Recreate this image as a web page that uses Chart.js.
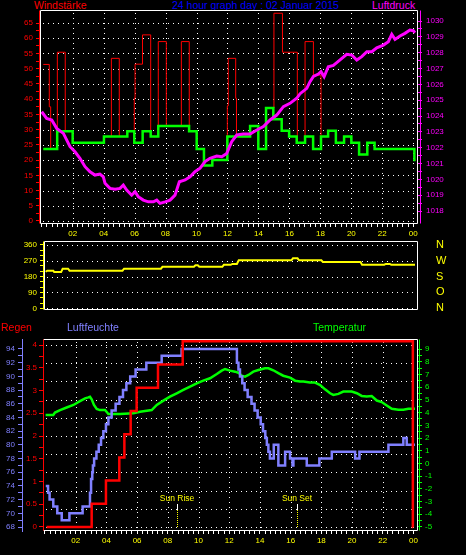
<!DOCTYPE html>
<html>
<head>
<meta charset="utf-8">
<title>24 hour graph</title>
<script src="https://cdn.jsdelivr.net/npm/chart.js@4.4.1/dist/chart.umd.min.js"></script>
<style>
  html, body { margin: 0; padding: 0; background: #000; }
  #wrap { position: relative; width: 466px; height: 555px; overflow: hidden; background: #000;
          font-family: 'Liberation Sans', Arial, sans-serif; }
  canvas { position: absolute; left: 0; }
  .lbl { position: absolute; font-size: 10.5px; line-height: 11px; white-space: nowrap; }
</style>
</head>
<body>
<div id="wrap">
  <div class="lbl" style="left:34px;top:0;color:#ff0000">Windstärke</div>
  <div class="lbl" style="left:172px;top:0;color:#0000ff">24 hour graph day : 02 Januar 2015</div>
  <div class="lbl" style="left:372px;top:0;color:#ff00ff">Luftdruck</div>
  <canvas id="cWind" width="466" height="245" style="top:0"></canvas>
  <canvas id="cDir" width="466" height="80" style="top:236px"></canvas>
  <div class="lbl" style="left:1px;top:322px;color:#ff0000">Regen</div>
  <div class="lbl" style="left:67px;top:322px;color:#8080ff">Luftfeuchte</div>
  <div class="lbl" style="left:313px;top:322px;color:#00ff00">Temperatur</div>
  <canvas id="cRain" width="466" height="225" style="top:330px"></canvas>
</div>
<script>
// --- tick labels ---
const hourTicks = [2, 4, 6, 8, 10, 12, 14, 16, 18, 20, 22, 24];
const hourLabels = ['02', '04', '06', '08', '10', '12', '14', '16', '18', '20', '22', '00'];
const windTicks = [0, 5, 10, 15, 20, 25, 30, 35, 40, 45, 50, 55, 60, 65];
const pressTicks = [1018, 1019, 1020, 1021, 1022, 1023, 1024, 1025, 1026, 1027, 1028, 1029, 1030];
const dirTicks = [0, 90, 180, 270, 360];
const compassLetters = ['N', 'O', 'S', 'W', 'N'];
const rainTicks = [0, 0.5, 1, 1.5, 2, 2.5, 3, 3.5, 4];
const rainGrid = [0, 0.4, 0.8, 1.2, 1.6, 2.0, 2.4, 2.8, 3.2, 3.6, 4.0];
const humTicks = [68, 70, 72, 74, 76, 78, 80, 82, 84, 86, 88, 90, 92, 94];
const tempTicks = [-5, -4, -3, -2, -1, 0, 1, 2, 3, 4, 5, 6, 7, 8, 9];
const sunTimes = [8.62, 16.44];
const sunLabels = ['Sun Rise', 'Sun Set'];

// --- Windstärke (Mittel, Stufen) ---
const windTimes = [0.10, 1.00, 2.00, 4.02, 5.53, 5.98, 6.52, 7.04, 7.53, 9.52, 10.01, 10.48, 11.02, 11.99, 13.46, 13.99,
  14.49, 14.96, 15.50, 15.98, 16.47, 17.01, 17.53, 18.04, 18.50, 19.00, 19.53, 20.00, 20.50, 21.03, 21.50, 24.07, 24.15];
const windValues = [23.6, 29.5, 25.7, 27.7, 29.5, 25.7, 29.5, 27.7, 31.2, 29.5, 23.6, 18.2, 20.0, 27.7, 31.2, 23.6,
  37.1, 33.4, 29.6, 27.7, 25.7, 27.7, 23.6, 27.7, 29.6, 25.7, 27.7, 25.7, 21.8, 25.7, 23.6, 20.0, 20.0];

// --- Böen ---
const gustTimes = [0.10, 0.49, 0.58, 1.01, 1.52, 2.00, 4.02, 4.50, 5.01, 5.53, 5.98, 6.03, 6.51, 7.04, 7.53, 8.05,
  9.02, 9.53, 10.01, 10.48, 11.02, 11.99, 12.05, 12.53, 12.58, 13.46, 13.99, 14.49, 15.00, 15.55, 16.51, 17.01,
  17.55, 18.04, 18.50, 19.00, 19.53, 20.00, 20.50, 21.03, 21.50, 24.07, 24.15];
const gustValues = [51.4, 37.5, 23.6, 55.4, 29.5, 25.7, 27.7, 53.4, 27.7, 29.5, 40.3, 51.5, 61.1, 27.7, 58.9, 31.2,
  58.9, 29.5, 23.6, 18.2, 20.0, 37.8, 53.4, 40.3, 27.7, 31.2, 23.6, 37.1, 68.2, 55.4, 25.7, 58.9,
  47.9, 27.7, 29.6, 25.7, 27.7, 25.7, 21.8, 25.7, 23.6, 20.0, 20.0];

// --- Luftdruck ---
const pressTimes = [0.00, 0.32, 0.65, 0.97, 1.40, 1.83, 2.15, 2.47, 2.80, 3.12, 3.44, 3.76, 3.98, 4.09, 4.41,
  4.74, 5.06, 5.27, 5.49, 5.81, 6.03, 6.24, 6.56, 6.89, 7.21, 7.43, 7.64, 7.97, 8.29, 8.61, 8.89, 9.26, 9.58,
  9.90, 10.23, 10.55, 10.87, 11.30, 11.63, 11.95, 12.27, 12.60, 13.02, 13.46, 13.89, 14.32, 14.75, 15.18, 15.61,
  16.04, 16.47, 16.69, 17.12, 17.33, 17.55, 17.87, 18.04, 18.24, 18.51, 18.84, 19.27, 19.70, 20.03, 20.35, 20.67,
  21.00, 21.32, 21.64, 22.07, 22.39, 22.61, 22.82, 23.14, 23.46, 23.78, 24.00, 24.11];
const pressValues = [1024.27, 1023.85, 1023.75, 1023.22, 1022.90, 1022.06, 1021.74, 1021.33, 1020.80, 1020.48,
  1020.27, 1020.33, 1020.16, 1019.75, 1019.43, 1019.37, 1019.43, 1019.64, 1019.32, 1019.00, 1019.22, 1018.90,
  1018.69, 1018.58, 1018.58, 1018.69, 1018.48, 1018.58, 1018.69, 1019.00, 1019.85, 1019.96, 1020.16, 1020.48,
  1020.70, 1021.12, 1021.33, 1021.47, 1021.43, 1021.64, 1022.38, 1022.80, 1022.86, 1022.86, 1023.12, 1023.33,
  1023.75, 1024.06, 1024.59, 1024.80, 1025.12, 1025.41, 1025.75, 1026.17, 1026.50, 1026.65, 1026.80, 1026.48,
  1027.11, 1027.20, 1027.54, 1027.90, 1027.85, 1027.54, 1027.75, 1028.06, 1028.06, 1028.31, 1028.48, 1028.69,
  1029.16, 1028.84, 1029.05, 1029.22, 1029.43, 1029.39, 1029.26];

// --- Windrichtung ---
const dirTimes = [0.04, 0.15, 0.54, 0.60, 1.05, 1.15, 1.50, 1.60, 5.05, 5.15, 7.55, 7.65, 9.70, 9.80, 9.95, 10.05,
  11.55, 11.65, 12.10, 12.20, 12.50, 12.62, 16.05, 16.15, 16.45, 16.55, 18.00, 18.10, 20.55, 20.65, 22.10, 22.20,
  22.45, 22.55, 24.10];
const dirValues = [207, 213, 213, 205, 205, 224, 224, 213, 213, 224, 224, 235, 235, 244, 244, 235,
  235, 246, 246, 251, 251, 272, 272, 283, 283, 272, 272, 262, 262, 247, 247, 251,
  251, 247, 247];

// --- Regen (Summe) ---
const rainTimes = [0.10, 3.04, 3.97, 4.84, 5.17, 5.58, 5.97, 7.36, 8.97, 23.96, 24.00];
const rainValues = [0, 0.51, 1.02, 1.53, 2.04, 2.55, 3.06, 3.57, 4.08, 0, 0];

// --- Luftfeuchte ---
const humTimes = [0.05, 0.20, 0.30, 0.54, 0.80, 1.09, 1.59, 2.45, 2.93, 3.00, 3.08, 3.12, 3.20, 3.35, 3.50, 3.65,
  3.80, 3.97, 4.13, 4.34, 4.60, 4.85, 5.08, 5.30, 5.55, 5.90, 6.60, 7.60, 8.90, 12.50, 12.60, 12.70, 12.85,
  13.00, 13.20, 13.45, 13.65, 13.85, 14.05, 14.20, 14.35, 14.45, 14.55, 14.65, 14.90, 15.20, 15.64, 15.96,
  16.12, 16.18, 17.05, 17.87, 18.68, 20.20, 20.48, 22.37, 23.34, 23.56, 24.10];
const humValues = [74, 73, 72, 71, 70, 69, 70, 71, 73, 75, 76, 77, 78, 79, 80, 81,
  82, 83, 84, 85, 86, 87, 88, 89, 90, 91, 92, 93, 94, 92, 91, 90, 89,
  88, 87, 86, 85, 84, 83, 82, 81, 80, 79, 78, 80, 77, 79, 78,
  77, 78, 77, 78, 79, 78, 79, 80, 81, 80, 80];

// --- Temperatur ---
const tempTimes = [0.04, 0.54, 0.65, 0.98, 1.41, 1.85, 2.28, 2.61, 2.82, 2.93, 3.04, 3.19, 3.37, 3.58, 3.91,
  4.13, 4.89, 5.75, 6.19, 6.95, 7.28, 7.71, 8.14, 8.58, 9.01, 9.45, 9.88, 10.31, 10.75, 11.19, 11.51, 11.73,
  12.05, 12.38, 12.59, 12.81, 13.03, 13.25, 13.57, 13.90, 14.33, 14.55, 14.87, 15.20, 15.52, 15.96, 16.29,
  16.61, 16.83, 17.26, 17.59, 17.92, 18.24, 18.57, 18.78, 19.11, 19.43, 19.98, 20.31, 20.63, 20.96, 21.28,
  21.61, 21.93, 22.26, 22.59, 23.02, 23.34, 23.67, 24.10];
const tempValues = [3.81, 3.81, 4.00, 4.20, 4.40, 4.60, 4.90, 5.12, 5.20, 5.25, 5.04, 4.60, 4.29, 4.20, 4.20,
  3.89, 3.89, 3.94, 4.07, 4.20, 4.60, 4.94, 5.25, 5.52, 5.78, 6.04, 6.30, 6.51, 6.70, 7.04, 7.30, 7.43,
  7.30, 7.22, 7.14, 6.90, 6.83, 6.96, 7.22, 7.35, 7.49, 7.49, 7.33, 7.10, 6.90, 6.75, 6.51,
  6.44, 6.44, 6.36, 6.36, 6.17, 5.83, 5.52, 5.39, 5.47, 5.65, 5.65, 5.52, 5.31, 5.26, 5.30,
  4.95, 4.83, 4.56, 4.30, 4.23, 4.23, 4.30, 4.30];

Chart.defaults.font.family = "'Liberation Sans', Arial, sans-serif";
Chart.defaults.font.size = 8;

function pts(xs, ys) {
  return xs.map((x, i) => ({ x: x, y: ys[i] }));
}

// regelmaessige Tick-Positionen (auch die kleinen ohne Beschriftung)
function steps(from, to, step) {
  const out = [];
  const n = Math.round((to - from) / step);
  for (let i = 0; i <= n; i++) out.push({ value: +(from + i * step).toFixed(4) });
  return out;
}

function pick(major, labels) {
  return v => {
    const i = major.findIndex(m => Math.abs(m - v) < 1e-6);
    return i < 0 ? '' : labels[i];
  };
}

function fixSize(w, h) {
  return scale => {
    if (w !== null) scale.width = w;
    if (h !== null) scale.height = h;
    scale.paddingTop = 0;
    scale.paddingBottom = 0;
    scale.paddingLeft = 0;
    scale.paddingRight = 0;
  };
}

function yAxis(o) {
  return {
    type: 'linear', axis: 'y', position: o.position, weight: o.weight || 0,
    min: o.min, max: o.max, bounds: 'data',
    afterFit: fixSize(o.width, null),
    afterBuildTicks: s => { s.ticks = steps(o.from, o.to, o.minor); },
    grid: { drawOnChartArea: false, drawTicks: o.tickLength > 0, tickLength: o.tickLength || 0,
            color: o.color, tickColor: o.color },
    border: { display: !!o.border, color: o.color, width: 1 },
    ticks: { color: o.color, padding: o.padding, autoSkip: false, font: { size: o.size || 8 },
             callback: pick(o.major, o.labels) }
  };
}

function xAxis(o) {
  return {
    type: 'linear', position: 'bottom', min: o.min, max: o.max, bounds: 'data', display: o.display,
    afterFit: fixSize(null, o.height),
    afterBuildTicks: s => { s.ticks = steps(0, 24, 1 / 3); },
    grid: { drawOnChartArea: false, tickLength: 3, color: '#ffffff', tickColor: '#ffffff' },
    border: { display: false },
    ticks: { color: '#ffff00', padding: 2, autoSkip: false, maxRotation: 0, minRotation: 0,
             callback: pick(hourTicks, hourLabels) }
  };
}

// gepunktetes Gitter, weisser Rahmen, Achsenlinien, Sonnenauf-/untergang
const framePlugin = {
  id: 'frame',
  beforeDatasetsDraw(chart, args, o) {
    const ctx = chart.ctx, a = chart.chartArea;
    const L = Math.round(a.left), R = Math.round(a.right), T = Math.round(a.top), B = Math.round(a.bottom);
    ctx.save();
    ctx.fillStyle = '#ffffff';
    if (o.hScale) {
      const s = chart.scales[o.hScale];
      o.hValues.forEach(v => {
        const y = Math.round(s.getPixelForValue(v));
        for (let x = L + 3; x < R - 1; x += 5) ctx.fillRect(x, y, 1, 1);
      });
    }
    if (o.vValues) {
      const s = chart.scales.x;
      o.vValues.forEach(v => {
        const x = Math.round(s.getPixelForValue(v));
        for (let y = T + 3; y < B - 1; y += 5) ctx.fillRect(x, y, 1, 1);
      });
    }
    if (o.sunTimes) {
      const s = chart.scales.x;
      const base = Math.round(chart.scales[o.hScale].getPixelForValue(0));
      ctx.font = "8.5px 'Liberation Sans', Arial, sans-serif";
      ctx.textAlign = 'center';
      o.sunTimes.forEach((h, i) => {
        const x = Math.round(s.getPixelForValue(h));
        ctx.fillStyle = '#ffffff';
        ctx.fillRect(x, base - 23, 1, 6);
        ctx.fillStyle = '#ffff00';
        for (let y = base - 17; y < base; y += 2) ctx.fillRect(x, y, 1, 1);
        ctx.fillText(o.sunLabels[i], x, base - 26);
      });
    }
    ctx.restore();
  },
  afterDatasetsDraw(chart, args, o) {
    const ctx = chart.ctx, a = chart.chartArea;
    const L = Math.round(a.left) + 0.5, R = Math.round(a.right) + 0.5;
    const T = Math.round(a.top) + 0.5, B = Math.round(a.bottom) - 0.5;
    ctx.save();
    ctx.lineWidth = 1;
    ctx.strokeStyle = '#ffffff';
    ctx.beginPath();
    ctx.moveTo(L, T); ctx.lineTo(R, T); ctx.lineTo(R, B); ctx.lineTo(L, B);
    ctx.stroke();
    ctx.strokeStyle = o.leftColor || '#ffffff';
    ctx.beginPath(); ctx.moveTo(L, T); ctx.lineTo(L, B); ctx.stroke();
    (o.lines || []).forEach(l => {
      const x = (l.side === 'left' ? Math.round(a.left) : Math.round(a.right)) + l.dx + 0.5;
      ctx.strokeStyle = l.color;
      ctx.beginPath(); ctx.moveTo(x, T); ctx.lineTo(x, B); ctx.stroke();
    });
    ctx.restore();
  }
};

const baseOptions = {
  animation: false,
  responsive: false,
  events: [],
  elements: {
    point: { radius: 0 },
    line: { tension: 0, borderCapStyle: 'butt', borderJoinStyle: 'miter', fill: false }
  }
};

// --- oben: Windstärke + Luftdruck ---
new Chart(document.getElementById('cWind'), {
  type: 'line',
  data: {
    datasets: [
      { data: pts(pressTimes, pressValues), yAxisID: 'press', borderColor: '#ff00ff', borderWidth: 3, order: 0 },
      { data: pts(windTimes, windValues), yAxisID: 'wind', borderColor: '#00ff00', borderWidth: 2.5, stepped: true, order: 1 },
      { data: pts(gustTimes, gustValues), yAxisID: 'wind', borderColor: '#ff0000', borderWidth: 1, stepped: true, order: 2 }
    ]
  },
  options: Object.assign({}, baseOptions, {
    layout: { padding: { top: 10, left: 0, right: 0, bottom: 0 } },
    plugins: {
      legend: { display: false }, tooltip: { enabled: false },
      frame: {
        hScale: 'wind', hValues: windTicks, vValues: hourTicks,
        lines: [{ side: 'left', dx: -1, color: '#ff0000' }, { side: 'right', dx: 3, color: '#ff00ff' }]
      }
    },
    scales: {
      x: xAxis({ min: -0.11, max: 24.24, height: 21, display: true }),
      wind: yAxis({ position: 'left', width: 40, min: -0.985, max: 69.27, from: 0, to: 65, minor: 2.5,
                    major: windTicks, labels: windTicks.map(String), color: '#ff0000', tickLength: 4, padding: 3 }),
      press: yAxis({ position: 'right', width: 49, min: 1017.18, max: 1030.695, from: 1018, to: 1030, minor: 0.5,
                     major: pressTicks, labels: pressTicks.map(String), color: '#ff00ff', tickLength: 5, padding: 4 })
    }
  }),
  plugins: [framePlugin]
});

// --- Mitte: Windrichtung ---
new Chart(document.getElementById('cDir'), {
  type: 'line',
  data: {
    datasets: [
      { data: pts(dirTimes, dirValues), yAxisID: 'dir', borderColor: '#ffff00', borderWidth: 2 }
    ]
  },
  options: Object.assign({}, baseOptions, {
    layout: { padding: { top: 5, left: 0, right: 0, bottom: 6 } },
    plugins: {
      legend: { display: false }, tooltip: { enabled: false },
      frame: { hScale: 'dir', hValues: dirTicks, lines: [{ side: 'left', dx: -1, color: '#ffff00' }] }
    },
    scales: {
      x: xAxis({ min: -0.065, max: 24.23, height: 0, display: false }),
      dir: yAxis({ position: 'left', width: 44, min: -9.6, max: 381, from: 0, to: 360, minor: 30,
                   major: dirTicks, labels: dirTicks.map(String), color: '#ffff00', tickLength: 4, padding: 3 }),
      compass: yAxis({ position: 'right', width: 49, min: -9.6, max: 381, from: 0, to: 360, minor: 90,
                       major: dirTicks, labels: compassLetters, color: '#ffff00', tickLength: 0, padding: 19, size: 11 })
    }
  }),
  plugins: [framePlugin]
});

// --- unten: Regen, Luftfeuchte, Temperatur ---
new Chart(document.getElementById('cRain'), {
  type: 'line',
  data: {
    datasets: [
      { data: pts(rainTimes, rainValues), yAxisID: 'rain', borderColor: '#ff0000', borderWidth: 2.5, stepped: true, order: 0 },
      { data: pts(humTimes, humValues), yAxisID: 'hum', borderColor: '#8080ff', borderWidth: 2.5, stepped: true, order: 1 },
      { data: pts(tempTimes, tempValues), yAxisID: 'temp', borderColor: '#00ff00', borderWidth: 2.5, order: 2 }
    ]
  },
  options: Object.assign({}, baseOptions, {
    layout: { padding: { top: 9, left: 0, right: 0, bottom: 0 } },
    plugins: {
      legend: { display: false }, tooltip: { enabled: false },
      frame: {
        hScale: 'rain', hValues: rainGrid, vValues: hourTicks, leftColor: '#ff0000',
        lines: [{ side: 'right', dx: 2, color: '#00ff00' }],
        sunTimes: sunTimes, sunLabels: sunLabels
      }
    },
    scales: {
      x: xAxis({ min: -0.13, max: 24.23, height: 24, display: true }),
      rain: yAxis({ position: 'left', weight: 0, width: 21, min: -0.088, max: 4.132, from: 0, to: 4, minor: 0.25,
                    major: rainTicks, labels: rainTicks.map(String), color: '#ff0000', tickLength: 4, padding: 2 }),
      hum: yAxis({ position: 'left', weight: 1, width: 22, min: 67.416, max: 95.46, from: 68, to: 94, minor: 1,
                   major: humTicks, labels: humTicks.map(String), color: '#8080ff', tickLength: 4, padding: 3, border: true }),
      temp: yAxis({ position: 'right', width: 49, min: -5.315, max: 9.79, from: -5, to: 9, minor: 0.5,
                    major: tempTicks, labels: tempTicks.map(String), color: '#00ff00', tickLength: 5, padding: 3 })
    }
  }),
  plugins: [framePlugin]
});
</script>
</body>
</html>
